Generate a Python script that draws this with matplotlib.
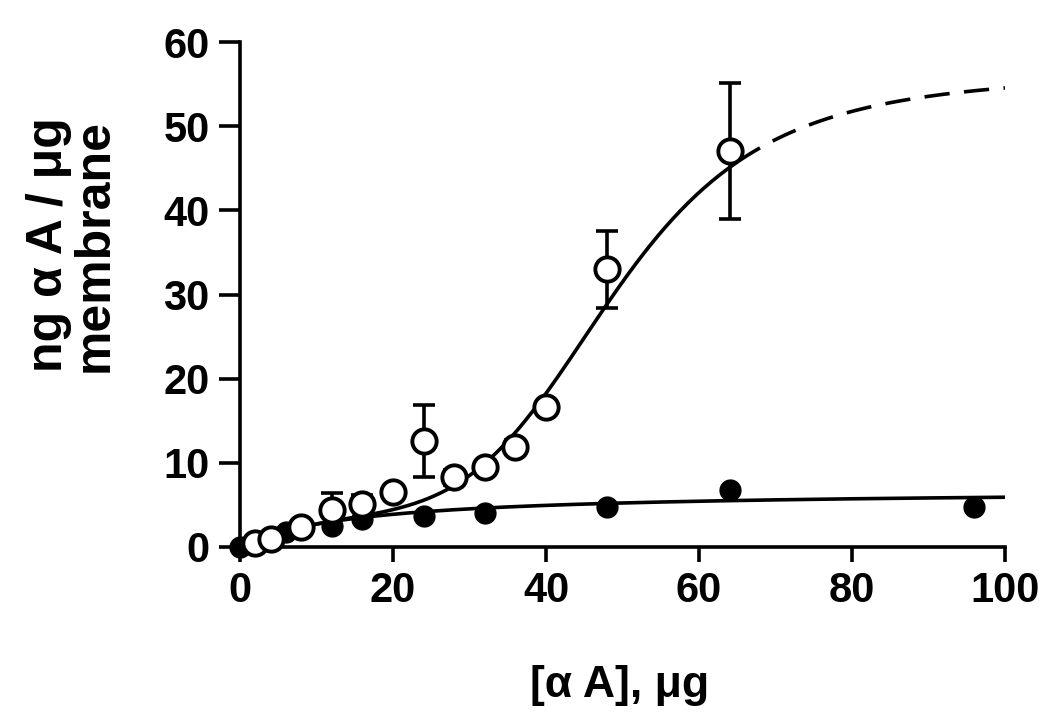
import numpy as np
import matplotlib
matplotlib.use("Agg")
import matplotlib.pyplot as plt

# Open circles (total binding) with error bars
open_x = [2, 4, 8, 12, 16, 20, 24, 28, 32, 36, 40, 48, 64]
open_y = [0.5, 1.0, 2.4, 4.4, 5.1, 6.5, 12.6, 8.3, 9.5, 11.9, 16.6, 33.0, 47.0]
open_err_low = [0, 0, 0, 0, 0, 0, 4.3, 0.9, 0, 0.8, 0, 4.6, 8.0]
open_err_up = [0, 0, 0, 2.0, 1.1, 0, 4.3, 0.9, 0, 0.8, 0, 4.6, 8.1]

# Filled circles
filled_x = [0, 4, 6, 8, 12, 16, 24, 32, 48, 64, 96]
filled_y = [0, 1.2, 1.8, 2.3, 2.5, 3.3, 3.7, 4.0, 4.8, 6.8, 4.8]

# Fitted curve parameters (hyperbolic + Hill)
hyp_bmax, hyp_k = 6.8, 15.0
hill_bmax, hill_ec50, hill_n = 50.0, 49.0, 5.0
solid_end = 65.0

x_ticks = [0, 20, 40, 60, 80, 100]
y_ticks = [0, 10, 20, 30, 40, 50, 60]

plt.rcParams['font.family'] = ['Liberation Sans', 'DejaVu Sans']
plt.rcParams['font.weight'] = 'bold'

fig = plt.figure(figsize=(10.5, 7.12), dpi=100)
ax = fig.add_axes([240/1050, 1-547/712, (1005-240)/1050, (547-42)/712])

def hyp(x):
    return hyp_bmax * x / (hyp_k + x)

def total(x):
    return hyp(x) + hill_bmax * x**hill_n / (hill_ec50**hill_n + x**hill_n)

lw = 2.6
xs = np.linspace(0, 100, 400)
ax.plot(xs, hyp(xs), color='black', lw=lw, zorder=2)
xa = xs[xs <= solid_end]
xb = xs[xs >= solid_end]
ax.plot(xa, total(xa), color='black', lw=lw, zorder=2)
ax.plot(xb, total(xb), color='black', lw=lw, ls=(0, (7, 4)), zorder=2)

ax.errorbar(open_x, open_y, yerr=[open_err_low, open_err_up], fmt='none',
            ecolor='black', elinewidth=lw, capsize=8, capthick=lw, zorder=3, clip_on=False)
ax.plot(filled_x, filled_y, 'o', ms=15, mfc='black', mec='black', zorder=4, clip_on=False)
ax.plot(open_x, open_y, 'o', ms=17.5, mfc='white', mec='black', mew=2.8, zorder=5, clip_on=False)

ax.set_xlim(0, 100)
ax.set_ylim(0, 60)
ax.set_xticks(x_ticks)
ax.set_yticks(y_ticks)
for s in ['top', 'right']:
    ax.spines[s].set_visible(False)
for s in ['left', 'bottom']:
    ax.spines[s].set_linewidth(lw)
ax.tick_params(axis='both', direction='out', width=lw, labelsize=30)
ax.tick_params(axis='y', length=15, pad=7)
ax.tick_params(axis='x', length=11, pad=6)
for lab in ax.get_xticklabels() + ax.get_yticklabels():
    lab.set_fontweight('bold')

fig.text(620/1050, 1-685/712, '[\u03b1 A], \u03bcg', fontsize=32, fontweight='bold',
         ha='center', va='center')
fig.text(72/1050, 1-245/712, 'ng \u03b1 A / \u03bcg\nmembrane', fontsize=36, fontweight='bold',
         ha='center', va='center', rotation=90, linespacing=1.0, multialignment='center')

fig.savefig('out.png', dpi=100)
